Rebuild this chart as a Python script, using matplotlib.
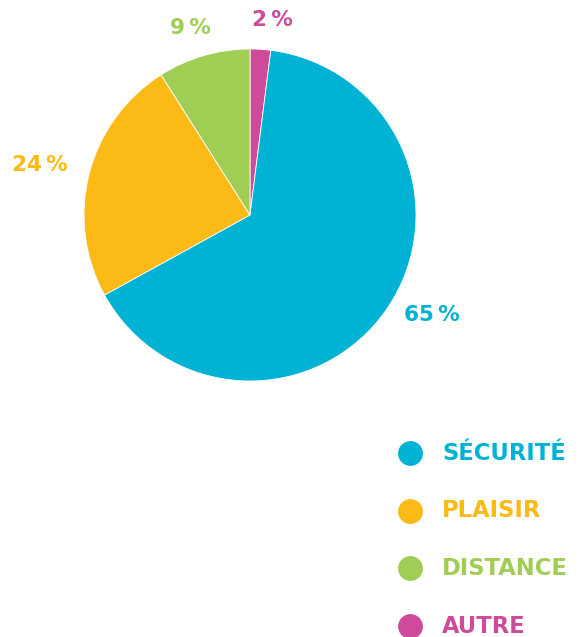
import matplotlib.pyplot as plt

labels = ['AUTRE', 'SÉCURITÉ', 'PLAISIR', 'DISTANCE']
values = [2, 65, 24, 9]
colors = ['#CE4A9A', '#00B2D3', '#FBBA16', '#A0CD54']
legend_order = ['SÉCURITÉ', 'PLAISIR', 'DISTANCE', 'AUTRE']

W, H = 579, 637
fig = plt.figure(figsize=(W / 100, H / 100), dpi=100)
ax = fig.add_axes([0, 0, 1, 1])

ax.pie(values, colors=colors, startangle=90, counterclock=False,
       center=(250, H - 215), radius=166, frame=True,
       wedgeprops=dict(linewidth=0.6, edgecolor='white'))
ax.set_xlim(0, W)
ax.set_ylim(0, H)
ax.set_aspect('equal')
ax.axis('off')

# percentage labels
label_pos = {'AUTRE': (272, 20), 'SÉCURITÉ': (432, 315),
             'PLAISIR': (40, 165), 'DISTANCE': (190, 28)}
for lab, v, c in zip(labels, values, colors):
    x, y = label_pos[lab]
    ax.text(x, H - y, f'{v}\u2009%', color=c, fontsize=15.5, fontweight='heavy',
            ha='center', va='center')

# legend
for i, lab in enumerate(legend_order):
    c = colors[labels.index(lab)]
    y = H - (453 + i * 57.7)
    ax.scatter([410], [y], s=320, color=c, linewidths=0)
    ax.text(442, y, lab, color=c, fontsize=16.3, fontweight='heavy',
            ha='left', va='center')

fig.savefig('out.png', dpi=100)
